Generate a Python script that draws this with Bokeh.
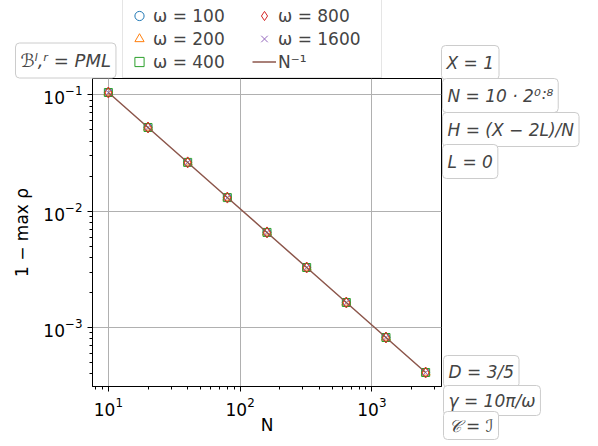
import numpy as np
from bokeh.plotting import figure
from bokeh.models import Range1d, Legend, LegendItem, Label
from bokeh.embed import file_html
from bokeh.resources import INLINE

# ---- data ----
N = [10, 20, 40, 80, 160, 320, 640, 1280, 2560]
rho_w100 = [0.105, 0.0525, 0.0263, 0.0131, 0.00657, 0.00328, 0.00164, 0.00082, 0.00041]
rho_w200 = [0.105, 0.0525, 0.0263, 0.0131, 0.00657, 0.00328, 0.00164, 0.00082, 0.00041]
rho_w400 = [0.105, 0.0525, 0.0263, 0.0131, 0.00657, 0.00328, 0.00164, 0.00082, 0.00041]
rho_w800 = [0.105, 0.0525, 0.0263, 0.0131, 0.00657, 0.00328, 0.00164, 0.00082, 0.00041]
rho_w1600 = [0.105, 0.0525, 0.0263, 0.0131, 0.00657, 0.00328, 0.00164, 0.00082, 0.00041]
ref_line = [0.105, 0.0525, 0.02625, 0.013125, 0.0065625, 0.00328, 0.00164, 0.00082, 0.00041]
series_labels = ["ω = 100", "ω = 200", "ω = 400", "ω = 800", "ω = 1600"]
ref_label = "N⁻¹"
annotations = ["ℬˡ,ʳ = PML", "X = 1", "N = 10 · 2⁰˸⁸", "H = (X − 2L)/N", "L = 0",
               "D = 3/5", "γ = 10π/ω", "𝒞 = ℐ"]

FONT = "DejaVu Sans"
W, H = 598, 446
POS = {"position": "absolute", "left": "0px", "top": "0px"}

def log_range(vals, frac=0.05):
    lo, hi = np.log10(min(vals)), np.log10(max(vals))
    pad = (hi - lo) * frac
    return Range1d(10 ** (lo - pad), 10 ** (hi + pad))

allv = rho_w100 + rho_w200 + rho_w400 + rho_w800 + rho_w1600
p = figure(width=W, height=H, x_axis_type="log", y_axis_type="log",
           x_range=log_range(N), y_range=log_range(allv),
           output_backend="svg", toolbar_location=None,
           min_border_left=92, min_border_right=157, min_border_top=78, min_border_bottom=60)
p.styles = POS

p.outline_line_color = "black"
p.outline_line_width = 1
p.background_fill_color = "white"
p.border_fill_color = "white"

for ax in (p.xaxis[0], p.yaxis[0]):
    ax.major_label_text_font = FONT
    ax.major_label_text_font_size = "17px"
    ax.axis_label_text_font = FONT
    ax.axis_label_text_font_size = "17px"
    ax.axis_label_text_font_style = "normal"
    ax.major_tick_out = 5
    ax.major_tick_in = 0
    ax.minor_tick_out = 3
    ax.minor_tick_in = 0
    ax.axis_line_color = "black"
    ax.major_tick_line_color = "black"
    ax.minor_tick_line_color = "black"
    ax.major_label_text_color = "black"
    ax.axis_label_text_color = "black"
p.xaxis.axis_label = "N"
p.yaxis.axis_label = "1 − max ρ"
p.xaxis.axis_label_standoff = -4
p.yaxis.axis_label_standoff = 8

p.xgrid.grid_line_color = "#b0b0b0"
p.ygrid.grid_line_color = "#b0b0b0"
p.xgrid.grid_line_width = 1
p.ygrid.grid_line_width = 1

colors = ["#1f77b4", "#ff7f0e", "#2ca02c", "#d62728", "#9467bd"]
markers = ["circle", "triangle", "square", "diamond", "x"]
data = [rho_w100, rho_w200, rho_w400, rho_w800, rho_w1600]
sizes = [8, 9, 8, 11, 8]

for col, mk, ys, sz in zip(colors, markers, data, sizes):
    p.scatter(N, ys, marker=mk, size=sz, line_color=col, fill_alpha=0, line_width=1)
p.line(N, ref_line, line_color="#8c564b", line_width=1.5)

# ---- transparent overlay carrying legend and boxed annotations (not clipped) ----
ov = figure(width=W, height=H, x_range=Range1d(0, W), y_range=Range1d(0, H),
            output_backend="svg", toolbar_location=None,
            x_axis_location=None, y_axis_location=None,
            min_border_left=0, min_border_right=0, min_border_top=0, min_border_bottom=0)
ov.styles = POS
ov.grid.visible = False
ov.outline_line_color = None
ov.background_fill_alpha = 0
ov.border_fill_alpha = 0

# hidden proxies (same series) used only for the legend glyphs
items = []
for lab, col, mk, ys, sz in zip(series_labels, colors, markers, data, sizes):
    r = ov.scatter(N, ys, marker=mk, size=sz, line_color=col, fill_alpha=0, line_width=1,
                   visible=False)
    items.append(LegendItem(label=lab, renderers=[r]))
rl = ov.line(N, ref_line, line_color="#8c564b", line_width=1.5, visible=False)
items.append(LegendItem(label=ref_label, renderers=[rl]))

legend = Legend(items=items, location=(122, H - 78), orientation="vertical", ncols=2,
                label_text_font=FONT, label_text_font_size="17px",
                label_height=17, glyph_height=23, glyph_width=24, spacing=-6,
                label_width=99, label_standoff=2, padding=4, margin=0,
                border_line_color="#cccccc", border_line_width=1,
                background_fill_color="white", background_fill_alpha=1)
ov.add_layout(legend, "center")

# page coordinates (left x, centre y from top) of each boxed annotation
box_x = [15, 441, 442, 442, 442, 443, 443, 443]
box_y = [60, 62, 95, 129, 161, 371, 400, 425]
box_fs = ["18px", "17px", "17px", "17px", "17px", "17px", "17px", "17px"]
box_pad_v = [7, 7, 7, 7, 7, 6, 5, 4]
for text, bx, by, fs, pv in zip(annotations, box_x, box_y, box_fs, box_pad_v):
    ov.add_layout(Label(x=bx, y=H - by, x_units="screen", y_units="screen", text=text,
                        text_font=FONT, text_font_size=fs, text_font_style="italic",
                        text_align="left", text_baseline="middle",
                        border_line_color="#cccccc", border_line_width=1,
                        background_fill_color="white", background_fill_alpha=1,
                        padding=dict(left=5, right=5, top=pv, bottom=pv), border_radius=4))

open("out.html", "w").write(file_html([p, ov], INLINE))
